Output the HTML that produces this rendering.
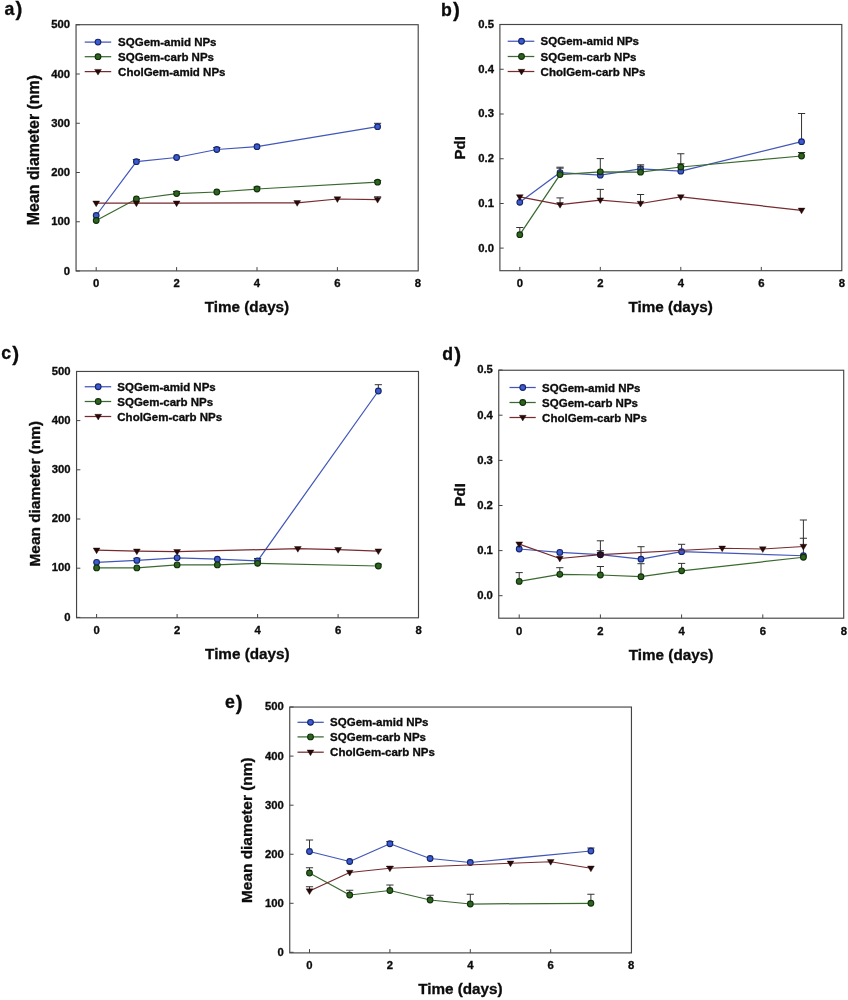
<!DOCTYPE html>
<html lang="en"><head><meta charset="utf-8"><title>Figure</title>
<style>
html,body{margin:0;padding:0;background:#fff}
svg{display:block;filter:blur(0.3px)}
svg text{font-family:"Liberation Sans", Arial, Helvetica, sans-serif;fill:#0c0c0c;stroke:#0c0c0c;stroke-width:0.32px}
</style></head><body>
<svg width="848" height="1000" viewBox="0 0 848 1000">
<rect width="848" height="1000" fill="#fff"/>
<g>
<text transform="translate(4.50 14.70) scale(1 1.0)" font-size="17.7" font-weight="bold">a<tspan font-size="20.6" dx="1.1" dy="1.5">)</tspan></text>
<rect x="76.05" y="24.7" width="342.15" height="246.2" fill="none" stroke="#454545" stroke-width="1.15"/>
<path d="M76.05 24.75h3.8" stroke="#454545" stroke-width="1"/>
<text transform="translate(70.15 28.40) scale(1 1.0)" font-size="11.3" font-weight="bold" text-anchor="end">500</text>
<path d="M76.05 74.00h3.8" stroke="#454545" stroke-width="1"/>
<text transform="translate(70.15 77.65) scale(1 1.0)" font-size="11.3" font-weight="bold" text-anchor="end">400</text>
<path d="M76.05 123.25h3.8" stroke="#454545" stroke-width="1"/>
<text transform="translate(70.15 126.90) scale(1 1.0)" font-size="11.3" font-weight="bold" text-anchor="end">300</text>
<path d="M76.05 172.50h3.8" stroke="#454545" stroke-width="1"/>
<text transform="translate(70.15 176.15) scale(1 1.0)" font-size="11.3" font-weight="bold" text-anchor="end">200</text>
<path d="M76.05 221.75h3.8" stroke="#454545" stroke-width="1"/>
<text transform="translate(70.15 225.40) scale(1 1.0)" font-size="11.3" font-weight="bold" text-anchor="end">100</text>
<path d="M76.05 271.00h3.8" stroke="#454545" stroke-width="1"/>
<text transform="translate(70.15 274.65) scale(1 1.0)" font-size="11.3" font-weight="bold" text-anchor="end">0</text>
<path d="M96.20 270.9v-3.8" stroke="#454545" stroke-width="1"/>
<text transform="translate(96.20 287.30) scale(1 1.0)" font-size="11.3" font-weight="bold" text-anchor="middle">0</text>
<path d="M176.60 270.9v-3.8" stroke="#454545" stroke-width="1"/>
<text transform="translate(176.60 287.30) scale(1 1.0)" font-size="11.3" font-weight="bold" text-anchor="middle">2</text>
<path d="M257.00 270.9v-3.8" stroke="#454545" stroke-width="1"/>
<text transform="translate(257.00 287.30) scale(1 1.0)" font-size="11.3" font-weight="bold" text-anchor="middle">4</text>
<path d="M337.40 270.9v-3.8" stroke="#454545" stroke-width="1"/>
<text transform="translate(337.40 287.30) scale(1 1.0)" font-size="11.3" font-weight="bold" text-anchor="middle">6</text>
<text transform="translate(417.80 287.30) scale(1 1.0)" font-size="11.3" font-weight="bold" text-anchor="middle">8</text>
<text transform="translate(246.93 312.40) scale(1 1.0)" font-size="15.25" font-weight="bold" text-anchor="middle">Time (days)</text>
<text transform="translate(38.90 150.10) rotate(-90)" font-size="15.9" font-weight="bold" text-anchor="middle">Mean diameter (nm)</text>
<path d="M84.7 42.1H111.2" stroke="#4257b8" stroke-width="1.25"/>
<circle cx="98.00" cy="42.10" r="2.85" fill="#3b5bd0" stroke="#16256b" stroke-width="1.1"/>
<text transform="translate(118.10 46.20) scale(1 1.0)" font-size="11.5" font-weight="bold">SQGem-amid NPs</text>
<path d="M84.7 56.7H111.2" stroke="#3a6a30" stroke-width="1.25"/>
<circle cx="98.00" cy="56.70" r="2.85" fill="#2e641f" stroke="#10300a" stroke-width="1.1"/>
<text transform="translate(118.10 60.80) scale(1 1.0)" font-size="11.5" font-weight="bold">SQGem-carb NPs</text>
<path d="M84.7 71.6H111.2" stroke="#752b2f" stroke-width="1.25"/>
<path d="M94.60 69.40H101.40L98.00 75.10Z" fill="#2a0808" stroke="#1a0404" stroke-width="0.4"/>
<text transform="translate(118.10 75.70) scale(1 1.0)" font-size="11.5" font-weight="bold">CholGem-amid NPs</text>
<path d="M136.40 161.70V159.50M132.80 159.50H140.00" stroke="#333" stroke-width="1" fill="none"/>
<path d="M216.80 149.50V147.50M213.20 147.50H220.40" stroke="#333" stroke-width="1" fill="none"/>
<path d="M377.60 126.70V123.30M374.00 123.30H381.20" stroke="#333" stroke-width="1" fill="none"/>
<path d="M96.20 215.50L136.40 161.70L176.60 157.50L216.80 149.50L257.00 146.70L377.60 126.70" stroke="#4257b8" stroke-width="1.25" fill="none" stroke-linejoin="round"/>
<circle cx="96.20" cy="215.50" r="2.85" fill="#3b5bd0" stroke="#16256b" stroke-width="1.1"/>
<circle cx="136.40" cy="161.70" r="2.85" fill="#3b5bd0" stroke="#16256b" stroke-width="1.1"/>
<circle cx="176.60" cy="157.50" r="2.85" fill="#3b5bd0" stroke="#16256b" stroke-width="1.1"/>
<circle cx="216.80" cy="149.50" r="2.85" fill="#3b5bd0" stroke="#16256b" stroke-width="1.1"/>
<circle cx="257.00" cy="146.70" r="2.85" fill="#3b5bd0" stroke="#16256b" stroke-width="1.1"/>
<circle cx="377.60" cy="126.70" r="2.85" fill="#3b5bd0" stroke="#16256b" stroke-width="1.1"/>
<path d="M176.60 193.60V191.50M173.00 191.50H180.20" stroke="#333" stroke-width="1" fill="none"/>
<path d="M257.00 189.00V187.00M253.40 187.00H260.60" stroke="#333" stroke-width="1" fill="none"/>
<path d="M377.60 182.20V180.50M374.00 180.50H381.20" stroke="#333" stroke-width="1" fill="none"/>
<path d="M96.20 220.50L136.40 199.00L176.60 193.60L216.80 192.00L257.00 189.00L377.60 182.20" stroke="#3a6a30" stroke-width="1.25" fill="none" stroke-linejoin="round"/>
<circle cx="96.20" cy="220.50" r="2.85" fill="#2e641f" stroke="#10300a" stroke-width="1.1"/>
<circle cx="136.40" cy="199.00" r="2.85" fill="#2e641f" stroke="#10300a" stroke-width="1.1"/>
<circle cx="176.60" cy="193.60" r="2.85" fill="#2e641f" stroke="#10300a" stroke-width="1.1"/>
<circle cx="216.80" cy="192.00" r="2.85" fill="#2e641f" stroke="#10300a" stroke-width="1.1"/>
<circle cx="257.00" cy="189.00" r="2.85" fill="#2e641f" stroke="#10300a" stroke-width="1.1"/>
<circle cx="377.60" cy="182.20" r="2.85" fill="#2e641f" stroke="#10300a" stroke-width="1.1"/>
<path d="M377.60 199.60V196.80M374.00 196.80H381.20" stroke="#333" stroke-width="1" fill="none"/>
<path d="M96.20 203.20L136.40 203.20L176.60 203.20L297.20 202.80L337.40 199.00L377.60 199.60" stroke="#752b2f" stroke-width="1.25" fill="none" stroke-linejoin="round"/>
<path d="M92.80 201.00H99.60L96.20 206.70Z" fill="#2a0808" stroke="#1a0404" stroke-width="0.4"/>
<path d="M133.00 201.00H139.80L136.40 206.70Z" fill="#2a0808" stroke="#1a0404" stroke-width="0.4"/>
<path d="M173.20 201.00H180.00L176.60 206.70Z" fill="#2a0808" stroke="#1a0404" stroke-width="0.4"/>
<path d="M293.80 200.60H300.60L297.20 206.30Z" fill="#2a0808" stroke="#1a0404" stroke-width="0.4"/>
<path d="M334.00 196.80H340.80L337.40 202.50Z" fill="#2a0808" stroke="#1a0404" stroke-width="0.4"/>
<path d="M374.20 197.40H381.00L377.60 203.10Z" fill="#2a0808" stroke="#1a0404" stroke-width="0.4"/>
</g>
<g>
<text transform="translate(441.00 15.70) scale(1 1.0)" font-size="17.7" font-weight="bold">b<tspan font-size="20.6" dx="1.1" dy="1.5">)</tspan></text>
<rect x="499.9" y="24.5" width="341.9" height="246.2" fill="none" stroke="#454545" stroke-width="1.15"/>
<path d="M499.9 24.50h3.8" stroke="#454545" stroke-width="1"/>
<text transform="translate(494.00 27.95) scale(1 1.0)" font-size="11.3" font-weight="bold" text-anchor="end">0.5</text>
<path d="M499.9 69.25h3.8" stroke="#454545" stroke-width="1"/>
<text transform="translate(494.00 72.70) scale(1 1.0)" font-size="11.3" font-weight="bold" text-anchor="end">0.4</text>
<path d="M499.9 114.00h3.8" stroke="#454545" stroke-width="1"/>
<text transform="translate(494.00 117.45) scale(1 1.0)" font-size="11.3" font-weight="bold" text-anchor="end">0.3</text>
<path d="M499.9 158.75h3.8" stroke="#454545" stroke-width="1"/>
<text transform="translate(494.00 162.20) scale(1 1.0)" font-size="11.3" font-weight="bold" text-anchor="end">0.2</text>
<path d="M499.9 203.50h3.8" stroke="#454545" stroke-width="1"/>
<text transform="translate(494.00 206.95) scale(1 1.0)" font-size="11.3" font-weight="bold" text-anchor="end">0.1</text>
<path d="M499.9 248.10h3.8" stroke="#454545" stroke-width="1"/>
<text transform="translate(494.00 251.55) scale(1 1.0)" font-size="11.3" font-weight="bold" text-anchor="end">0.0</text>
<path d="M519.80 270.7v-3.8" stroke="#454545" stroke-width="1"/>
<text transform="translate(519.80 286.50) scale(1 1.0)" font-size="11.3" font-weight="bold" text-anchor="middle">0</text>
<path d="M600.30 270.7v-3.8" stroke="#454545" stroke-width="1"/>
<text transform="translate(600.30 286.50) scale(1 1.0)" font-size="11.3" font-weight="bold" text-anchor="middle">2</text>
<path d="M680.80 270.7v-3.8" stroke="#454545" stroke-width="1"/>
<text transform="translate(680.80 286.50) scale(1 1.0)" font-size="11.3" font-weight="bold" text-anchor="middle">4</text>
<path d="M761.30 270.7v-3.8" stroke="#454545" stroke-width="1"/>
<text transform="translate(761.30 286.50) scale(1 1.0)" font-size="11.3" font-weight="bold" text-anchor="middle">6</text>
<text transform="translate(841.80 286.50) scale(1 1.0)" font-size="11.3" font-weight="bold" text-anchor="middle">8</text>
<text transform="translate(670.65 312.20) scale(1 1.0)" font-size="15.25" font-weight="bold" text-anchor="middle">Time (days)</text>
<text transform="translate(465.40 147.80) rotate(-90)" font-size="15.0" font-weight="bold" text-anchor="middle">PdI</text>
<path d="M507.7 41.25H534.3" stroke="#4257b8" stroke-width="1.25"/>
<circle cx="521.50" cy="41.25" r="2.85" fill="#3b5bd0" stroke="#16256b" stroke-width="1.1"/>
<text transform="translate(540.60 45.35) scale(1 1.0)" font-size="11.5" font-weight="bold">SQGem-amid NPs</text>
<path d="M507.7 56.5H534.3" stroke="#3a6a30" stroke-width="1.25"/>
<circle cx="521.50" cy="56.50" r="2.85" fill="#2e641f" stroke="#10300a" stroke-width="1.1"/>
<text transform="translate(540.60 60.60) scale(1 1.0)" font-size="11.5" font-weight="bold">SQGem-carb NPs</text>
<path d="M507.7 71.5H534.3" stroke="#752b2f" stroke-width="1.25"/>
<path d="M518.10 69.30H524.90L521.50 75.00Z" fill="#2a0808" stroke="#1a0404" stroke-width="0.4"/>
<text transform="translate(540.60 75.60) scale(1 1.0)" font-size="11.5" font-weight="bold">CholGem-carb NPs</text>
<path d="M560.05 172.60V167.20M556.45 167.20H563.65" stroke="#333" stroke-width="1" fill="none"/>
<path d="M640.55 168.80V164.80M636.95 164.80H644.15" stroke="#333" stroke-width="1" fill="none"/>
<path d="M680.80 171.20V153.75M677.20 153.75H684.40" stroke="#333" stroke-width="1" fill="none"/>
<path d="M801.55 141.70V113.50M797.95 113.50H805.15" stroke="#333" stroke-width="1" fill="none"/>
<path d="M519.80 202.30L560.05 172.60L600.30 175.20L640.55 168.80L680.80 171.20L801.55 141.70" stroke="#4257b8" stroke-width="1.25" fill="none" stroke-linejoin="round"/>
<circle cx="519.80" cy="202.30" r="2.85" fill="#3b5bd0" stroke="#16256b" stroke-width="1.1"/>
<circle cx="560.05" cy="172.60" r="2.85" fill="#3b5bd0" stroke="#16256b" stroke-width="1.1"/>
<circle cx="600.30" cy="175.20" r="2.85" fill="#3b5bd0" stroke="#16256b" stroke-width="1.1"/>
<circle cx="640.55" cy="168.80" r="2.85" fill="#3b5bd0" stroke="#16256b" stroke-width="1.1"/>
<circle cx="680.80" cy="171.20" r="2.85" fill="#3b5bd0" stroke="#16256b" stroke-width="1.1"/>
<circle cx="801.55" cy="141.70" r="2.85" fill="#3b5bd0" stroke="#16256b" stroke-width="1.1"/>
<path d="M519.80 234.70V227.50M516.20 227.50H523.40" stroke="#333" stroke-width="1" fill="none"/>
<path d="M560.05 174.60V168.20M556.45 168.20H563.65" stroke="#333" stroke-width="1" fill="none"/>
<path d="M600.30 171.80V158.60M596.70 158.60H603.90" stroke="#333" stroke-width="1" fill="none"/>
<path d="M640.55 172.20V166.20M636.95 166.20H644.15" stroke="#333" stroke-width="1" fill="none"/>
<path d="M680.80 167.00V163.80M677.20 163.80H684.40" stroke="#333" stroke-width="1" fill="none"/>
<path d="M801.55 156.00V152.50M797.95 152.50H805.15" stroke="#333" stroke-width="1" fill="none"/>
<path d="M519.80 234.70L560.05 174.60L600.30 171.80L640.55 172.20L680.80 167.00L801.55 156.00" stroke="#3a6a30" stroke-width="1.25" fill="none" stroke-linejoin="round"/>
<circle cx="519.80" cy="234.70" r="2.85" fill="#2e641f" stroke="#10300a" stroke-width="1.1"/>
<circle cx="560.05" cy="174.60" r="2.85" fill="#2e641f" stroke="#10300a" stroke-width="1.1"/>
<circle cx="600.30" cy="171.80" r="2.85" fill="#2e641f" stroke="#10300a" stroke-width="1.1"/>
<circle cx="640.55" cy="172.20" r="2.85" fill="#2e641f" stroke="#10300a" stroke-width="1.1"/>
<circle cx="680.80" cy="167.00" r="2.85" fill="#2e641f" stroke="#10300a" stroke-width="1.1"/>
<circle cx="801.55" cy="156.00" r="2.85" fill="#2e641f" stroke="#10300a" stroke-width="1.1"/>
<path d="M560.05 204.70V197.90M556.45 197.90H563.65" stroke="#333" stroke-width="1" fill="none"/>
<path d="M600.30 200.10V189.40M596.70 189.40H603.90" stroke="#333" stroke-width="1" fill="none"/>
<path d="M640.55 203.50V194.50M636.95 194.50H644.15" stroke="#333" stroke-width="1" fill="none"/>
<path d="M519.80 196.90L560.05 204.70L600.30 200.10L640.55 203.50L680.80 196.90L801.55 210.30" stroke="#752b2f" stroke-width="1.25" fill="none" stroke-linejoin="round"/>
<path d="M516.40 194.70H523.20L519.80 200.40Z" fill="#2a0808" stroke="#1a0404" stroke-width="0.4"/>
<path d="M556.65 202.50H563.45L560.05 208.20Z" fill="#2a0808" stroke="#1a0404" stroke-width="0.4"/>
<path d="M596.90 197.90H603.70L600.30 203.60Z" fill="#2a0808" stroke="#1a0404" stroke-width="0.4"/>
<path d="M637.15 201.30H643.95L640.55 207.00Z" fill="#2a0808" stroke="#1a0404" stroke-width="0.4"/>
<path d="M677.40 194.70H684.20L680.80 200.40Z" fill="#2a0808" stroke="#1a0404" stroke-width="0.4"/>
<path d="M798.15 208.10H804.95L801.55 213.80Z" fill="#2a0808" stroke="#1a0404" stroke-width="0.4"/>
</g>
<g>
<text transform="translate(1.30 359.00) scale(1 1.0)" font-size="17.7" font-weight="bold">c<tspan font-size="20.6" dx="1.1" dy="1.5">)</tspan></text>
<rect x="76.55" y="371.45" width="341.95" height="246.34999999999997" fill="none" stroke="#454545" stroke-width="1.15"/>
<path d="M76.55 371.50h3.8" stroke="#454545" stroke-width="1"/>
<text transform="translate(70.65 374.75) scale(1 1.0)" font-size="11.3" font-weight="bold" text-anchor="end">500</text>
<path d="M76.55 420.60h3.8" stroke="#454545" stroke-width="1"/>
<text transform="translate(70.65 423.85) scale(1 1.0)" font-size="11.3" font-weight="bold" text-anchor="end">400</text>
<path d="M76.55 469.80h3.8" stroke="#454545" stroke-width="1"/>
<text transform="translate(70.65 473.05) scale(1 1.0)" font-size="11.3" font-weight="bold" text-anchor="end">300</text>
<path d="M76.55 519.00h3.8" stroke="#454545" stroke-width="1"/>
<text transform="translate(70.65 522.25) scale(1 1.0)" font-size="11.3" font-weight="bold" text-anchor="end">200</text>
<path d="M76.55 568.20h3.8" stroke="#454545" stroke-width="1"/>
<text transform="translate(70.65 571.45) scale(1 1.0)" font-size="11.3" font-weight="bold" text-anchor="end">100</text>
<path d="M76.55 617.40h3.8" stroke="#454545" stroke-width="1"/>
<text transform="translate(70.65 620.65) scale(1 1.0)" font-size="11.3" font-weight="bold" text-anchor="end">0</text>
<path d="M96.60 617.8v-3.8" stroke="#454545" stroke-width="1"/>
<text transform="translate(96.60 633.70) scale(1 1.0)" font-size="11.3" font-weight="bold" text-anchor="middle">0</text>
<path d="M177.10 617.8v-3.8" stroke="#454545" stroke-width="1"/>
<text transform="translate(177.10 633.70) scale(1 1.0)" font-size="11.3" font-weight="bold" text-anchor="middle">2</text>
<path d="M257.60 617.8v-3.8" stroke="#454545" stroke-width="1"/>
<text transform="translate(257.60 633.70) scale(1 1.0)" font-size="11.3" font-weight="bold" text-anchor="middle">4</text>
<path d="M338.10 617.8v-3.8" stroke="#454545" stroke-width="1"/>
<text transform="translate(338.10 633.70) scale(1 1.0)" font-size="11.3" font-weight="bold" text-anchor="middle">6</text>
<text transform="translate(418.60 633.70) scale(1 1.0)" font-size="11.3" font-weight="bold" text-anchor="middle">8</text>
<text transform="translate(247.33 659.30) scale(1 1.0)" font-size="15.25" font-weight="bold" text-anchor="middle">Time (days)</text>
<text transform="translate(40.00 493.70) rotate(-90)" font-size="15.43" font-weight="bold" text-anchor="middle">Mean diameter (nm)</text>
<path d="M84.7 386.75H111.2" stroke="#4257b8" stroke-width="1.25"/>
<circle cx="98.20" cy="386.75" r="2.85" fill="#3b5bd0" stroke="#16256b" stroke-width="1.1"/>
<text transform="translate(117.30 390.85) scale(1 1.0)" font-size="11.5" font-weight="bold">SQGem-amid NPs</text>
<path d="M84.7 401.5H111.2" stroke="#3a6a30" stroke-width="1.25"/>
<circle cx="98.20" cy="401.50" r="2.85" fill="#2e641f" stroke="#10300a" stroke-width="1.1"/>
<text transform="translate(117.30 405.60) scale(1 1.0)" font-size="11.5" font-weight="bold">SQGem-carb NPs</text>
<path d="M84.7 416.5H111.2" stroke="#752b2f" stroke-width="1.25"/>
<path d="M94.80 414.30H101.60L98.20 420.00Z" fill="#2a0808" stroke="#1a0404" stroke-width="0.4"/>
<text transform="translate(117.30 420.60) scale(1 1.0)" font-size="11.5" font-weight="bold">CholGem-carb NPs</text>
<path d="M136.85 560.40V558.30M133.25 558.30H140.45" stroke="#333" stroke-width="1" fill="none"/>
<path d="M257.60 560.80V558.50M254.00 558.50H261.20" stroke="#333" stroke-width="1" fill="none"/>
<path d="M378.35 391.00V384.70M374.75 384.70H381.95" stroke="#333" stroke-width="1" fill="none"/>
<path d="M96.60 562.30L136.85 560.40L177.10 557.80L217.35 559.20L257.60 560.80L378.35 391.00" stroke="#4257b8" stroke-width="1.25" fill="none" stroke-linejoin="round"/>
<circle cx="96.60" cy="562.30" r="2.85" fill="#3b5bd0" stroke="#16256b" stroke-width="1.1"/>
<circle cx="136.85" cy="560.40" r="2.85" fill="#3b5bd0" stroke="#16256b" stroke-width="1.1"/>
<circle cx="177.10" cy="557.80" r="2.85" fill="#3b5bd0" stroke="#16256b" stroke-width="1.1"/>
<circle cx="217.35" cy="559.20" r="2.85" fill="#3b5bd0" stroke="#16256b" stroke-width="1.1"/>
<circle cx="257.60" cy="560.80" r="2.85" fill="#3b5bd0" stroke="#16256b" stroke-width="1.1"/>
<circle cx="378.35" cy="391.00" r="2.85" fill="#3b5bd0" stroke="#16256b" stroke-width="1.1"/>
<path d="M378.35 566.00V564.20M374.75 564.20H381.95" stroke="#333" stroke-width="1" fill="none"/>
<path d="M96.60 567.90L136.85 567.90L177.10 564.90L217.35 564.90L257.60 563.30L378.35 566.00" stroke="#3a6a30" stroke-width="1.25" fill="none" stroke-linejoin="round"/>
<circle cx="96.60" cy="567.90" r="2.85" fill="#2e641f" stroke="#10300a" stroke-width="1.1"/>
<circle cx="136.85" cy="567.90" r="2.85" fill="#2e641f" stroke="#10300a" stroke-width="1.1"/>
<circle cx="177.10" cy="564.90" r="2.85" fill="#2e641f" stroke="#10300a" stroke-width="1.1"/>
<circle cx="217.35" cy="564.90" r="2.85" fill="#2e641f" stroke="#10300a" stroke-width="1.1"/>
<circle cx="257.60" cy="563.30" r="2.85" fill="#2e641f" stroke="#10300a" stroke-width="1.1"/>
<circle cx="378.35" cy="566.00" r="2.85" fill="#2e641f" stroke="#10300a" stroke-width="1.1"/>
<path d="M96.60 550.20L136.85 551.20L177.10 551.70L297.85 548.70L338.10 549.70L378.35 551.10" stroke="#752b2f" stroke-width="1.25" fill="none" stroke-linejoin="round"/>
<path d="M93.20 548.00H100.00L96.60 553.70Z" fill="#2a0808" stroke="#1a0404" stroke-width="0.4"/>
<path d="M133.45 549.00H140.25L136.85 554.70Z" fill="#2a0808" stroke="#1a0404" stroke-width="0.4"/>
<path d="M173.70 549.50H180.50L177.10 555.20Z" fill="#2a0808" stroke="#1a0404" stroke-width="0.4"/>
<path d="M294.45 546.50H301.25L297.85 552.20Z" fill="#2a0808" stroke="#1a0404" stroke-width="0.4"/>
<path d="M334.70 547.50H341.50L338.10 553.20Z" fill="#2a0808" stroke="#1a0404" stroke-width="0.4"/>
<path d="M374.95 548.90H381.75L378.35 554.60Z" fill="#2a0808" stroke="#1a0404" stroke-width="0.4"/>
</g>
<g>
<text transform="translate(442.30 360.20) scale(1 1.0)" font-size="17.7" font-weight="bold">d<tspan font-size="20.6" dx="1.1" dy="1.5">)</tspan></text>
<rect x="498.75" y="370.25" width="344.95000000000005" height="247.95000000000005" fill="none" stroke="#454545" stroke-width="1.15"/>
<path d="M498.75 370.00h3.8" stroke="#454545" stroke-width="1"/>
<text transform="translate(492.85 373.45) scale(1 1.0)" font-size="11.3" font-weight="bold" text-anchor="end">0.5</text>
<path d="M498.75 415.20h3.8" stroke="#454545" stroke-width="1"/>
<text transform="translate(492.85 418.65) scale(1 1.0)" font-size="11.3" font-weight="bold" text-anchor="end">0.4</text>
<path d="M498.75 460.40h3.8" stroke="#454545" stroke-width="1"/>
<text transform="translate(492.85 463.85) scale(1 1.0)" font-size="11.3" font-weight="bold" text-anchor="end">0.3</text>
<path d="M498.75 505.50h3.8" stroke="#454545" stroke-width="1"/>
<text transform="translate(492.85 508.95) scale(1 1.0)" font-size="11.3" font-weight="bold" text-anchor="end">0.2</text>
<path d="M498.75 550.60h3.8" stroke="#454545" stroke-width="1"/>
<text transform="translate(492.85 554.05) scale(1 1.0)" font-size="11.3" font-weight="bold" text-anchor="end">0.1</text>
<path d="M498.75 595.70h3.8" stroke="#454545" stroke-width="1"/>
<text transform="translate(492.85 599.15) scale(1 1.0)" font-size="11.3" font-weight="bold" text-anchor="end">0.0</text>
<path d="M519.20 618.2v-3.8" stroke="#454545" stroke-width="1"/>
<text transform="translate(519.20 634.55) scale(1 1.0)" font-size="11.3" font-weight="bold" text-anchor="middle">0</text>
<path d="M600.40 618.2v-3.8" stroke="#454545" stroke-width="1"/>
<text transform="translate(600.40 634.55) scale(1 1.0)" font-size="11.3" font-weight="bold" text-anchor="middle">2</text>
<path d="M681.60 618.2v-3.8" stroke="#454545" stroke-width="1"/>
<text transform="translate(681.60 634.55) scale(1 1.0)" font-size="11.3" font-weight="bold" text-anchor="middle">4</text>
<path d="M762.80 618.2v-3.8" stroke="#454545" stroke-width="1"/>
<text transform="translate(762.80 634.55) scale(1 1.0)" font-size="11.3" font-weight="bold" text-anchor="middle">6</text>
<text transform="translate(844.00 634.55) scale(1 1.0)" font-size="11.3" font-weight="bold" text-anchor="middle">8</text>
<text transform="translate(671.02 659.70) scale(1 1.0)" font-size="15.25" font-weight="bold" text-anchor="middle">Time (days)</text>
<text transform="translate(465.40 494.80) rotate(-90)" font-size="15.0" font-weight="bold" text-anchor="middle">PdI</text>
<path d="M509.5 387.5H535.75" stroke="#4257b8" stroke-width="1.25"/>
<circle cx="522.75" cy="387.50" r="2.85" fill="#3b5bd0" stroke="#16256b" stroke-width="1.1"/>
<text transform="translate(542.10 391.60) scale(1 1.0)" font-size="11.5" font-weight="bold">SQGem-amid NPs</text>
<path d="M509.5 402.5H535.75" stroke="#3a6a30" stroke-width="1.25"/>
<circle cx="522.75" cy="402.50" r="2.85" fill="#2e641f" stroke="#10300a" stroke-width="1.1"/>
<text transform="translate(542.10 406.60) scale(1 1.0)" font-size="11.5" font-weight="bold">SQGem-carb NPs</text>
<path d="M509.5 417.5H535.75" stroke="#752b2f" stroke-width="1.25"/>
<path d="M519.35 415.30H526.15L522.75 421.00Z" fill="#2a0808" stroke="#1a0404" stroke-width="0.4"/>
<text transform="translate(542.10 421.60) scale(1 1.0)" font-size="11.5" font-weight="bold">CholGem-carb NPs</text>
<path d="M600.40 554.70V540.80M596.80 540.80H604.00" stroke="#333" stroke-width="1" fill="none"/>
<path d="M641.00 559.20V546.70M637.40 546.70H644.60" stroke="#333" stroke-width="1" fill="none"/>
<path d="M681.60 551.70V544.30M678.00 544.30H685.20" stroke="#333" stroke-width="1" fill="none"/>
<path d="M803.40 555.75V538.25M799.80 538.25H807.00" stroke="#333" stroke-width="1" fill="none"/>
<path d="M519.20 549.00L559.80 552.40L600.40 554.70L641.00 559.20L681.60 551.70L803.40 555.75" stroke="#4257b8" stroke-width="1.25" fill="none" stroke-linejoin="round"/>
<circle cx="519.20" cy="549.00" r="2.85" fill="#3b5bd0" stroke="#16256b" stroke-width="1.1"/>
<circle cx="559.80" cy="552.40" r="2.85" fill="#3b5bd0" stroke="#16256b" stroke-width="1.1"/>
<circle cx="600.40" cy="554.70" r="2.85" fill="#3b5bd0" stroke="#16256b" stroke-width="1.1"/>
<circle cx="641.00" cy="559.20" r="2.85" fill="#3b5bd0" stroke="#16256b" stroke-width="1.1"/>
<circle cx="681.60" cy="551.70" r="2.85" fill="#3b5bd0" stroke="#16256b" stroke-width="1.1"/>
<circle cx="803.40" cy="555.75" r="2.85" fill="#3b5bd0" stroke="#16256b" stroke-width="1.1"/>
<path d="M519.20 581.40V572.60M515.60 572.60H522.80" stroke="#333" stroke-width="1" fill="none"/>
<path d="M559.80 574.30V567.70M556.20 567.70H563.40" stroke="#333" stroke-width="1" fill="none"/>
<path d="M600.40 575.00V566.50M596.80 566.50H604.00" stroke="#333" stroke-width="1" fill="none"/>
<path d="M641.00 576.70V563.70M637.40 563.70H644.60" stroke="#333" stroke-width="1" fill="none"/>
<path d="M681.60 570.80V563.40M678.00 563.40H685.20" stroke="#333" stroke-width="1" fill="none"/>
<path d="M519.20 581.40L559.80 574.30L600.40 575.00L641.00 576.70L681.60 570.80L803.40 557.25" stroke="#3a6a30" stroke-width="1.25" fill="none" stroke-linejoin="round"/>
<circle cx="519.20" cy="581.40" r="2.85" fill="#2e641f" stroke="#10300a" stroke-width="1.1"/>
<circle cx="559.80" cy="574.30" r="2.85" fill="#2e641f" stroke="#10300a" stroke-width="1.1"/>
<circle cx="600.40" cy="575.00" r="2.85" fill="#2e641f" stroke="#10300a" stroke-width="1.1"/>
<circle cx="641.00" cy="576.70" r="2.85" fill="#2e641f" stroke="#10300a" stroke-width="1.1"/>
<circle cx="681.60" cy="570.80" r="2.85" fill="#2e641f" stroke="#10300a" stroke-width="1.1"/>
<circle cx="803.40" cy="557.25" r="2.85" fill="#2e641f" stroke="#10300a" stroke-width="1.1"/>
<path d="M600.40 554.70V550.70M596.80 550.70H604.00" stroke="#333" stroke-width="1" fill="none"/>
<path d="M803.40 546.50V520.00M799.80 520.00H807.00" stroke="#333" stroke-width="1" fill="none"/>
<path d="M519.20 544.10L559.80 558.50L600.40 554.70L722.20 548.25L762.80 549.00L803.40 546.50" stroke="#752b2f" stroke-width="1.25" fill="none" stroke-linejoin="round"/>
<path d="M515.80 541.90H522.60L519.20 547.60Z" fill="#2a0808" stroke="#1a0404" stroke-width="0.4"/>
<path d="M556.40 556.30H563.20L559.80 562.00Z" fill="#2a0808" stroke="#1a0404" stroke-width="0.4"/>
<path d="M597.00 552.50H603.80L600.40 558.20Z" fill="#2a0808" stroke="#1a0404" stroke-width="0.4"/>
<path d="M718.80 546.05H725.60L722.20 551.75Z" fill="#2a0808" stroke="#1a0404" stroke-width="0.4"/>
<path d="M759.40 546.80H766.20L762.80 552.50Z" fill="#2a0808" stroke="#1a0404" stroke-width="0.4"/>
<path d="M800.00 544.30H806.80L803.40 550.00Z" fill="#2a0808" stroke="#1a0404" stroke-width="0.4"/>
</g>
<g>
<text transform="translate(224.90 708.20) scale(1 1.0)" font-size="17.7" font-weight="bold">e<tspan font-size="20.6" dx="1.1" dy="1.5">)</tspan></text>
<rect x="289.75" y="707.05" width="341.70000000000005" height="245.85000000000002" fill="none" stroke="#454545" stroke-width="1.15"/>
<path d="M289.75 707.00h3.8" stroke="#454545" stroke-width="1"/>
<text transform="translate(283.85 710.45) scale(1 1.0)" font-size="11.3" font-weight="bold" text-anchor="end">500</text>
<path d="M289.75 756.10h3.8" stroke="#454545" stroke-width="1"/>
<text transform="translate(283.85 759.55) scale(1 1.0)" font-size="11.3" font-weight="bold" text-anchor="end">400</text>
<path d="M289.75 805.20h3.8" stroke="#454545" stroke-width="1"/>
<text transform="translate(283.85 808.65) scale(1 1.0)" font-size="11.3" font-weight="bold" text-anchor="end">300</text>
<path d="M289.75 854.25h3.8" stroke="#454545" stroke-width="1"/>
<text transform="translate(283.85 857.70) scale(1 1.0)" font-size="11.3" font-weight="bold" text-anchor="end">200</text>
<path d="M289.75 903.30h3.8" stroke="#454545" stroke-width="1"/>
<text transform="translate(283.85 906.75) scale(1 1.0)" font-size="11.3" font-weight="bold" text-anchor="end">100</text>
<path d="M289.75 952.30h3.8" stroke="#454545" stroke-width="1"/>
<text transform="translate(283.85 955.75) scale(1 1.0)" font-size="11.3" font-weight="bold" text-anchor="end">0</text>
<path d="M309.50 952.9v-3.8" stroke="#454545" stroke-width="1"/>
<text transform="translate(309.50 969.00) scale(1 1.0)" font-size="11.3" font-weight="bold" text-anchor="middle">0</text>
<path d="M389.90 952.9v-3.8" stroke="#454545" stroke-width="1"/>
<text transform="translate(389.90 969.00) scale(1 1.0)" font-size="11.3" font-weight="bold" text-anchor="middle">2</text>
<path d="M470.30 952.9v-3.8" stroke="#454545" stroke-width="1"/>
<text transform="translate(470.30 969.00) scale(1 1.0)" font-size="11.3" font-weight="bold" text-anchor="middle">4</text>
<path d="M550.70 952.9v-3.8" stroke="#454545" stroke-width="1"/>
<text transform="translate(550.70 969.00) scale(1 1.0)" font-size="11.3" font-weight="bold" text-anchor="middle">6</text>
<text transform="translate(631.10 969.00) scale(1 1.0)" font-size="11.3" font-weight="bold" text-anchor="middle">8</text>
<text transform="translate(460.40 994.40) scale(1 1.0)" font-size="15.25" font-weight="bold" text-anchor="middle">Time (days)</text>
<text transform="translate(252.20 830.20) rotate(-90)" font-size="15.43" font-weight="bold" text-anchor="middle">Mean diameter (nm)</text>
<path d="M297.5 722.3H323.75" stroke="#4257b8" stroke-width="1.25"/>
<circle cx="310.50" cy="722.30" r="2.85" fill="#3b5bd0" stroke="#16256b" stroke-width="1.1"/>
<text transform="translate(330.10 726.40) scale(1 1.0)" font-size="11.5" font-weight="bold">SQGem-amid NPs</text>
<path d="M297.5 736.9H323.75" stroke="#3a6a30" stroke-width="1.25"/>
<circle cx="310.50" cy="736.90" r="2.85" fill="#2e641f" stroke="#10300a" stroke-width="1.1"/>
<text transform="translate(330.10 741.00) scale(1 1.0)" font-size="11.5" font-weight="bold">SQGem-carb NPs</text>
<path d="M297.5 752.2H323.75" stroke="#752b2f" stroke-width="1.25"/>
<path d="M307.10 750.00H313.90L310.50 755.70Z" fill="#2a0808" stroke="#1a0404" stroke-width="0.4"/>
<text transform="translate(330.10 756.30) scale(1 1.0)" font-size="11.5" font-weight="bold">CholGem-carb NPs</text>
<path d="M309.50 851.50V840.00M305.90 840.00H313.10" stroke="#333" stroke-width="1" fill="none"/>
<path d="M389.90 843.75V841.50M386.30 841.50H393.50" stroke="#333" stroke-width="1" fill="none"/>
<path d="M590.90 851.00V848.00M587.30 848.00H594.50" stroke="#333" stroke-width="1" fill="none"/>
<path d="M309.50 851.50L349.70 861.50L389.90 843.75L430.10 858.50L470.30 862.50L590.90 851.00" stroke="#4257b8" stroke-width="1.25" fill="none" stroke-linejoin="round"/>
<circle cx="309.50" cy="851.50" r="2.85" fill="#3b5bd0" stroke="#16256b" stroke-width="1.1"/>
<circle cx="349.70" cy="861.50" r="2.85" fill="#3b5bd0" stroke="#16256b" stroke-width="1.1"/>
<circle cx="389.90" cy="843.75" r="2.85" fill="#3b5bd0" stroke="#16256b" stroke-width="1.1"/>
<circle cx="430.10" cy="858.50" r="2.85" fill="#3b5bd0" stroke="#16256b" stroke-width="1.1"/>
<circle cx="470.30" cy="862.50" r="2.85" fill="#3b5bd0" stroke="#16256b" stroke-width="1.1"/>
<circle cx="590.90" cy="851.00" r="2.85" fill="#3b5bd0" stroke="#16256b" stroke-width="1.1"/>
<path d="M309.50 873.00V867.75M305.90 867.75H313.10" stroke="#333" stroke-width="1" fill="none"/>
<path d="M349.70 895.00V890.25M346.10 890.25H353.30" stroke="#333" stroke-width="1" fill="none"/>
<path d="M389.90 890.50V885.00M386.30 885.00H393.50" stroke="#333" stroke-width="1" fill="none"/>
<path d="M430.10 900.00V895.25M426.50 895.25H433.70" stroke="#333" stroke-width="1" fill="none"/>
<path d="M470.30 904.00V894.25M466.70 894.25H473.90" stroke="#333" stroke-width="1" fill="none"/>
<path d="M590.90 903.25V894.25M587.30 894.25H594.50" stroke="#333" stroke-width="1" fill="none"/>
<path d="M309.50 873.00L349.70 895.00L389.90 890.50L430.10 900.00L470.30 904.00L590.90 903.25" stroke="#3a6a30" stroke-width="1.25" fill="none" stroke-linejoin="round"/>
<circle cx="309.50" cy="873.00" r="2.85" fill="#2e641f" stroke="#10300a" stroke-width="1.1"/>
<circle cx="349.70" cy="895.00" r="2.85" fill="#2e641f" stroke="#10300a" stroke-width="1.1"/>
<circle cx="389.90" cy="890.50" r="2.85" fill="#2e641f" stroke="#10300a" stroke-width="1.1"/>
<circle cx="430.10" cy="900.00" r="2.85" fill="#2e641f" stroke="#10300a" stroke-width="1.1"/>
<circle cx="470.30" cy="904.00" r="2.85" fill="#2e641f" stroke="#10300a" stroke-width="1.1"/>
<circle cx="590.90" cy="903.25" r="2.85" fill="#2e641f" stroke="#10300a" stroke-width="1.1"/>
<path d="M309.50 891.00V886.75M305.90 886.75H313.10" stroke="#333" stroke-width="1" fill="none"/>
<path d="M389.90 868.25V866.50M386.30 866.50H393.50" stroke="#333" stroke-width="1" fill="none"/>
<path d="M309.50 891.00L349.70 872.50L389.90 868.25L510.50 863.25L550.70 861.75L590.90 868.25" stroke="#752b2f" stroke-width="1.25" fill="none" stroke-linejoin="round"/>
<path d="M306.10 888.80H312.90L309.50 894.50Z" fill="#2a0808" stroke="#1a0404" stroke-width="0.4"/>
<path d="M346.30 870.30H353.10L349.70 876.00Z" fill="#2a0808" stroke="#1a0404" stroke-width="0.4"/>
<path d="M386.50 866.05H393.30L389.90 871.75Z" fill="#2a0808" stroke="#1a0404" stroke-width="0.4"/>
<path d="M507.10 861.05H513.90L510.50 866.75Z" fill="#2a0808" stroke="#1a0404" stroke-width="0.4"/>
<path d="M547.30 859.55H554.10L550.70 865.25Z" fill="#2a0808" stroke="#1a0404" stroke-width="0.4"/>
<path d="M587.50 866.05H594.30L590.90 871.75Z" fill="#2a0808" stroke="#1a0404" stroke-width="0.4"/>
</g>
<circle cx="600.40" cy="554.7" r="3.0" fill="#2a1226" stroke="#160814" stroke-width="0.8"/>
</svg>
</body></html>
